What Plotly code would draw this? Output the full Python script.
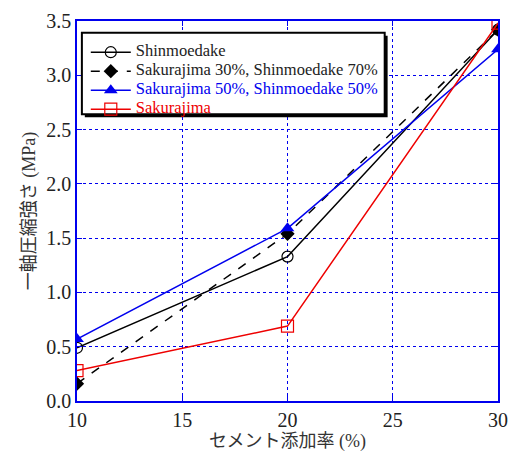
import plotly.graph_objects as go

cement = [10, 20, 30]
shinmoedake = [0.49, 1.33, 3.42]
saku30 = [0.16, 1.54, 3.42]
saku50 = [0.57, 1.59, 3.24]
sakurajima = [0.28, 0.69, 3.48]

names = ["Shinmoedake", "Sakurajima 30%, Shinmoedake 70%",
         "Sakurajima 50%, Shinmoedake 50%", "Sakurajima"]
colors = ["black", "black", "#0000ee", "#ee0000"]
text_colors = ["#222", "#222", "#0000ee", "#ee0000"]

FONT = "Liberation Serif, Times New Roman, DejaVu Serif, Noto Sans CJK JP, serif"


def lab(i):
    return '<span style="font-size:16.5px;color:%s">%s</span>' % (text_colors[i], names[i])


fig = go.Figure()
fig.add_trace(go.Scatter(x=cement, y=shinmoedake, name=lab(0), mode="lines+markers",
                         line=dict(color=colors[0], width=1.5),
                         marker=dict(symbol="circle-open", size=11, color=colors[0], line=dict(width=1.2))))
fig.add_trace(go.Scatter(x=cement, y=saku30, name=lab(1), mode="lines+markers",
                         line=dict(color=colors[1], width=1.5, dash="dash"),
                         marker=dict(symbol="diamond", size=11, color=colors[1])))
fig.add_trace(go.Scatter(x=cement, y=saku50, name=lab(2), mode="lines+markers",
                         line=dict(color=colors[2], width=1.5),
                         marker=dict(symbol="triangle-up", size=12, color=colors[2])))
fig.add_trace(go.Scatter(x=cement, y=sakurajima, name=lab(3), mode="lines+markers",
                         line=dict(color=colors[3], width=1.5),
                         marker=dict(symbol="square-open", size=12, color=colors[3], line=dict(width=1.2))))

axis_common = dict(showline=True, linecolor="#0000ee", linewidth=1.5, mirror="ticks",
                   ticks="inside", ticklen=5, tickcolor="#0000ee", tickwidth=1,
                   showgrid=True, gridcolor="#0000ee", griddash="dot", gridwidth=1,
                   zeroline=False, tickfont=dict(family=FONT, size=20, color="#222"))

fig.update_xaxes(range=[10, 30], tickvals=[10, 15, 20, 25, 30],
                 title=dict(text="セメント添加率 (%)", font=dict(family=FONT, size=18, color="#333"), standoff=4),
                 **axis_common)
fig.update_yaxes(range=[0, 3.5], tickvals=[0, 0.5, 1, 1.5, 2, 2.5, 3, 3.5], tickformat=".1f",
                 title=dict(text="一軸圧縮強さ (MPa)", font=dict(family=FONT, size=18, color="#333"), standoff=6),
                 **axis_common)

PW, PH, L, B = 431, 387, 77, 408


def px(x):
    return (x - L) / PW


def py(y):
    return (B - y) / PH


# legend shadow and box
fig.add_shape(type="rect", xref="paper", yref="paper", layer="above",
              x0=px(85), x1=px(395), y0=py(119), y1=py(36),
              fillcolor="black", line=dict(width=0))
fig.add_shape(type="rect", xref="paper", yref="paper", layer="above",
              x0=px(82), x1=px(392), y0=py(116), y1=py(33),
              fillcolor="white", line=dict(color="black", width=2))

fig.update_layout(
    width=518, height=457,
    margin=dict(l=L, r=10, t=21, b=49),
    paper_bgcolor="white", plot_bgcolor="white",
    font=dict(family=FONT),
    showlegend=True,
    legend=dict(x=px(86), y=py(38), xanchor="left", yanchor="top",
                bgcolor="rgba(0,0,0,0)", borderwidth=0,
                font=dict(family=FONT, size=10), tracegroupgap=0,
                itemwidth=40),
)

fig.write_html("out.html")
